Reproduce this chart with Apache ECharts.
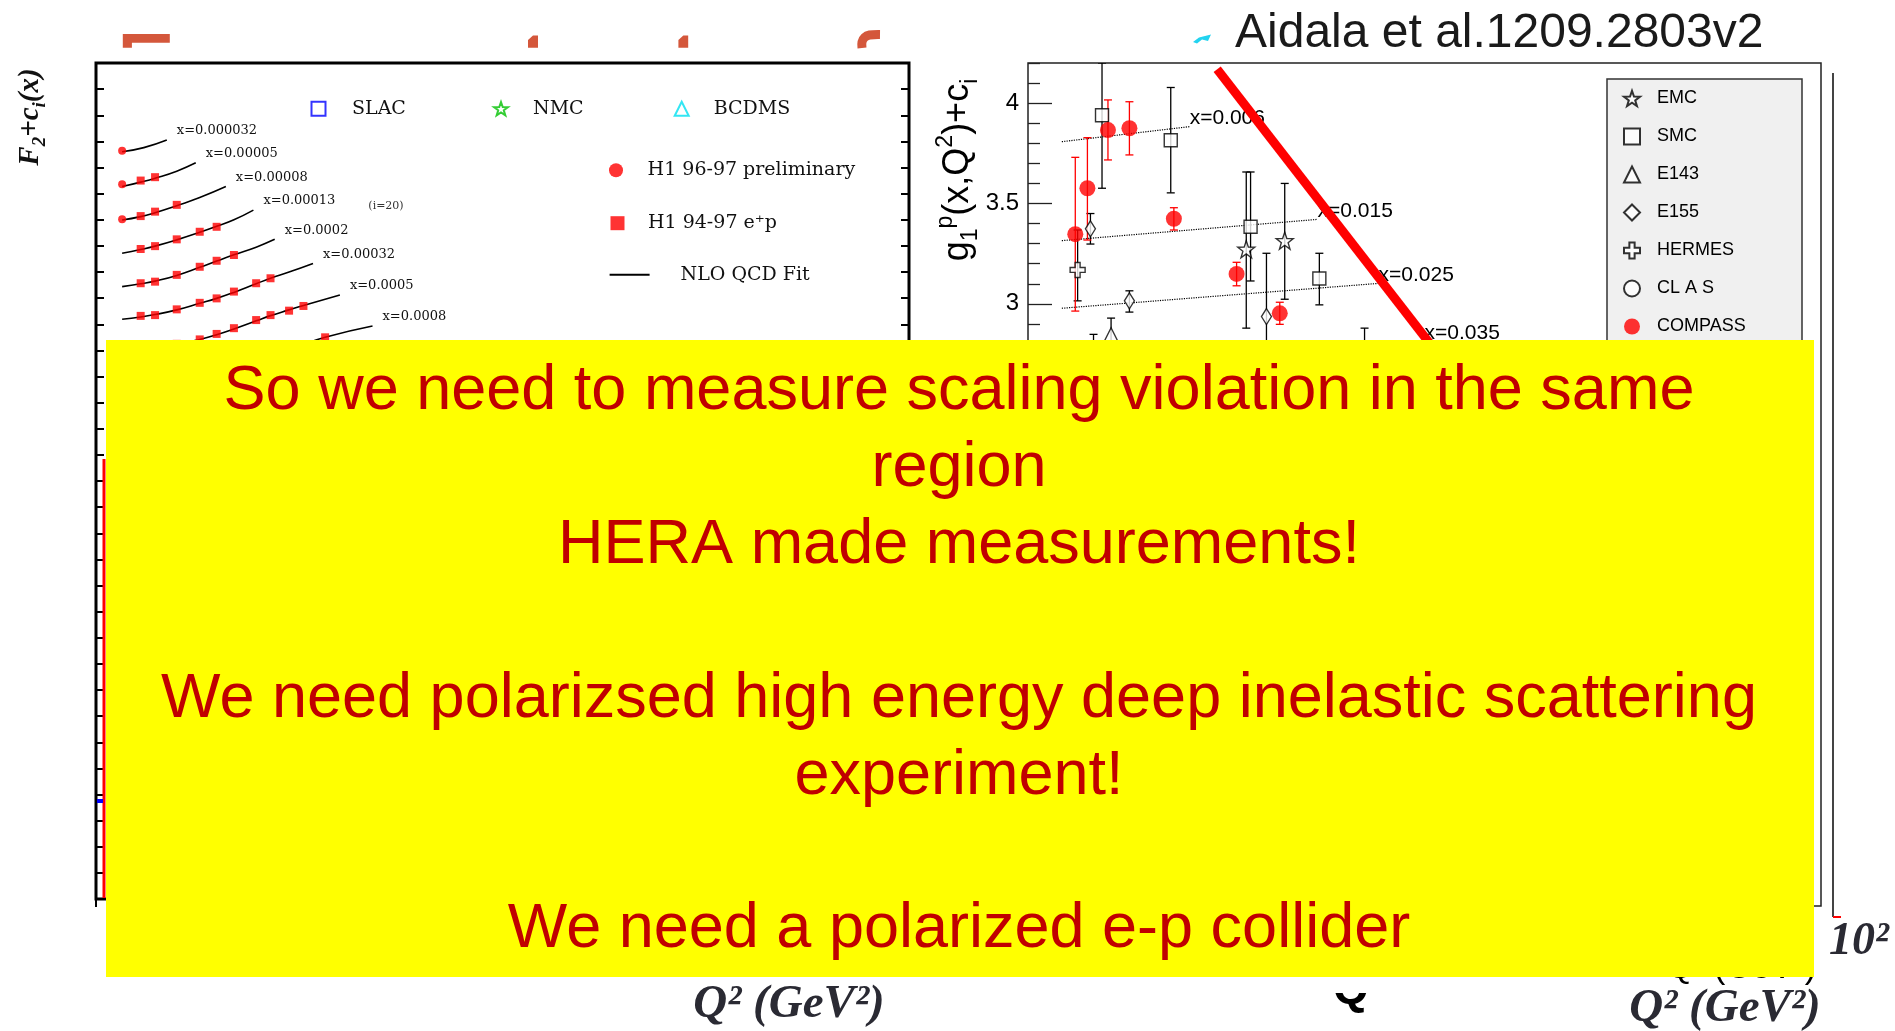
<!DOCTYPE html>
<html><head><meta charset="utf-8">
<script src="https://cdn.jsdelivr.net/npm/echarts@6/dist/echarts.min.js"></script>
<style>html,body{margin:0;padding:0;background:#fff}#c{width:1895px;height:1031px}</style>
</head><body><div id="c"></div>
<script>
// ================= DATA =================
// Left chart: H1 F2 + c_i(x) vs Q^2 (log Q^2 axis, offset F2 in arbitrary units)
const leftCurveLabels = ['x=0.000032','x=0.00005','x=0.00008','x=0.00013','x=0.0002','x=0.00032','x=0.0005','x=0.0008'];
const leftFits = [
  [[1.5,28.60],[2.1,28.76],[3.0,29.05]],
  [[1.5,27.27],[2,27.44],[2.5,27.59],[3.5,27.86],[4.7,28.18]],
  [[1.5,25.99],[2,26.12],[2.5,26.27],[3.5,26.54],[5,26.85],[7.5,27.27]],
  [[1.5,24.72],[2,24.86],[2.5,24.99],[3.5,25.23],[5,25.52],[6.5,25.75],[8.5,26.0],[11.5,26.37]],
  [[1.5,23.44],[2,23.55],[2.5,23.65],[3.5,23.87],[5,24.18],[6.5,24.42],[8.5,24.66],[12,24.95],[16,25.25]],
  [[1.5,22.19],[2,22.28],[2.5,22.37],[3.5,22.55],[5,22.8],[6.5,22.99],[8.5,23.22],[12,23.55],[15,23.76],[20,24.0],[29,24.33]],
  [[1.5,20.9],[2.5,21.08],[3.5,21.22],[5,21.42],[6.5,21.6],[8.5,21.82],[12,22.13],[15,22.33],[20,22.55],[25,22.72],[44,23.12]],
  [[1.5,19.6],[3.5,19.95],[8.5,20.45],[20,21.05],[35,21.5],[73,21.93]]
];
const h1PrelimPts = [[1.5,28.64],[1.5,27.36],[1.5,26.02]];
const h1Pts = [
  [2,27.50],[2.5,27.63],
  [2,26.14],[2.5,26.31],[3.5,26.57],
  [2,24.88],[2.5,24.99],[3.5,25.25],[5,25.54],[6.5,25.73],
  [2,23.57],[2.5,23.63],[3.5,23.89],[5,24.20],[6.5,24.43],[8.5,24.65],
  [2,22.32],[2.5,22.35],[3.5,22.57],[5,22.82],[6.5,22.99],[8.5,23.25],[12,23.57],[15,23.76],
  [2,21.0],[2.5,21.06],[3.5,21.25],[5,21.42],[6.5,21.63],[8.5,21.85],[12,22.16],[15,22.35],[20,22.52],[25,22.70],
  [35,21.5]
];

// Right chart: g1p(x,Q^2)+c_i vs Q^2 ; rows = [Q2, value, errLow, errHigh]
const compassPts = [[1.316,3.347,2.964,3.730],[1.412,3.576,3.318,3.828],[1.591,3.866,3.717,4.016],[1.802,3.875,3.742,4.007],[2.333,3.424,3.368,3.479],[3.358,3.149,3.090,3.207],[4.315,2.953,2.898,3.008]];
const smcPts = [[1.537,3.940,3.576,4.2],[2.291,3.815,3.553,4.078],[3.642,3.384,3.114,3.657],[5.43,3.126,2.995,3.252],[7.06,2.70,2.52,2.879]];
const emcPts = [[3.552,3.272,2.879,3.657],[4.441,3.315,3.023,3.600]];
const e155Pts = [[1.437,3.374,3.298,3.450],[1.802,3.015,2.959,3.065],[3.994,2.937,2.62,3.252]];
const hermesPts = [[1.334,3.169,3.015,3.368]];
const e143Pts = [[1.62,2.846,2.76,2.929],[1.463,2.78,2.71,2.848]];
const clasPts = [];
const rightFitLabels = ['x=0.006','x=0.015','x=0.025','x=0.035'];
const rightFits = [
  [[1.217,3.808],[2.557,3.883]],
  [[1.217,3.315],[5.375,3.421]],
  [[1.217,2.978],[7.656,3.102]],
  [[1.217,2.675],[10.0,2.815]]
];
const annotationLine = [[3.0,4.169],[10.62,2.770]];

// tick values
const rightYTicks = [0,0.5,1,1.5,2,2.5,3,3.5,4];
const leftXMajorTicks = [1,10,100,1000,10000,100000];

// slide texts
const yellowLines = ['So we need to measure scaling violation in the same','region','HERA made measurements!','','We need polarizsed high energy deep inelastic scattering','experiment!','','We need a polarized e-p collider'];

// ================= STYLE =================
const SANS = 'Liberation Sans, Arial, Helvetica, sans-serif';
const SERIF = 'Liberation Serif, Times New Roman, serif';
const DSERIF = 'DejaVu Serif, serif';
const STAR = 'path://M0,-10L2.35,-3.24L9.51,-3.09L3.8,1.24L5.88,8.09L0,4L-5.88,8.09L-3.8,1.24L-9.51,-3.09L-2.35,-3.24Z';
const PLUS = 'path://M-2.3,-7L2.3,-7L2.3,-2.3L7,-2.3L7,2.3L2.3,2.3L2.3,7L-2.3,7L-2.3,2.3L-7,2.3L-7,-2.3L-2.3,-2.3Z';
const hollow = c => ({color:'#fff', borderColor:c, borderWidth:1.4});

const leftMinorTicks = [];
leftXMajorTicks.forEach(d => { for (let k = 2; k <= 9; k++) if (d*k < 301000) leftMinorTicks.push(d*k); });
const rightMinorTicks = [];
for (let i = 1; i <= 42; i++) if (i % 5 !== 0) rightMinorTicks.push(+(i/10).toFixed(1));

function errSeries(name, pts, color) {
  return {
    type:'custom', name, coordinateSystem:'cartesian2d', xAxisIndex:2, yAxisIndex:2,
    data:pts, encode:{x:0, y:1}, z:3, silent:true, clip:true,
    renderItem: (params, api) => {
      const x = api.value(0), lo = api.value(2), hi = api.value(3);
      const a = api.coord([x, hi]), b = api.coord([x, lo]);
      const c = 4, st = {stroke:color, lineWidth:1.3};
      return {type:'group', children:[
        {type:'line', shape:{x1:a[0], y1:a[1], x2:b[0], y2:b[1]}, style:st},
        {type:'line', shape:{x1:a[0]-c, y1:a[1], x2:a[0]+c, y2:a[1]}, style:st},
        {type:'line', shape:{x1:b[0]-c, y1:b[1], x2:b[0]+c, y2:b[1]}, style:st}
      ]};
    }
  };
}
function markSeries(name, pts, symbol, size, itemStyle) {
  return {type:'scatter', name, xAxisIndex:2, yAxisIndex:2, data:pts.map(p => [p[0], p[1]]),
    symbol, symbolSize:size, itemStyle, z:4, clip:true};
}

const series = [];
// left fits
leftFits.forEach((f, i) => series.push({
  type:'line', name:'NLO QCD Fit', xAxisIndex:0, yAxisIndex:0, data:f, smooth:true, symbol:'none',
  lineStyle:{color:'#000', width:1.6}, itemStyle:{color:'#000'}, z:2,
  endLabel:{show:true, formatter:leftCurveLabels[i], distance:0, offset:[10,-9], fontFamily:DSERIF, fontSize:13, color:'#111'}
}));
series.push({type:'scatter', name:'H1 96-97 preliminary', xAxisIndex:0, yAxisIndex:0, data:h1PrelimPts, symbol:'circle', symbolSize:8, itemStyle:{color:'#ff0000'}, z:4});
series.push({type:'scatter', name:'H1 94-97 e⁺p', xAxisIndex:0, yAxisIndex:0, data:h1Pts, symbol:'rect', symbolSize:8, itemStyle:{color:'#ff0000'}, z:4});
series.push({type:'scatter', name:'SLAC', xAxisIndex:0, yAxisIndex:0, data:[], symbol:'rect', symbolSize:10, itemStyle:{color:'#fff', borderColor:'#0000ff', borderWidth:2}});
series.push({type:'scatter', name:'NMC', xAxisIndex:0, yAxisIndex:0, data:[], symbol:STAR, symbolSize:10, itemStyle:{color:'#fff', borderColor:'#00c000', borderWidth:2}});
series.push({type:'scatter', name:'BCDMS', xAxisIndex:0, yAxisIndex:0, data:[], symbol:'triangle', symbolSize:10, itemStyle:{color:'#fff', borderColor:'#00e0f0', borderWidth:2}});

// right fits
rightFits.forEach((f, i) => series.push({
  type:'line', name:rightFitLabels[i], xAxisIndex:2, yAxisIndex:2, data:f, symbol:'none',
  lineStyle:{color:'#000', width:1.2, type:'dotted'}, z:2,
  endLabel:{show:true, formatter:rightFitLabels[i], distance:0, offset:[0,-8], fontFamily:SANS, fontSize:21, color:'#000'}
}));
series.push(errSeries('EMC err', emcPts, '#000'));
series.push(errSeries('SMC err', smcPts, '#000'));
series.push(errSeries('E143 err', e143Pts, '#000'));
series.push(errSeries('E155 err', e155Pts, '#000'));
series.push(errSeries('HERMES err', hermesPts, '#000'));
series.push(errSeries('COMPASS err', compassPts, '#ff0000'));
series.push(markSeries('EMC', emcPts, STAR, 17, hollow('#000')));
series.push(markSeries('SMC', smcPts, 'rect', 13, hollow('#000')));
series.push(markSeries('E143', e143Pts, 'triangle', 14, hollow('#000')));
series.push(markSeries('E155', e155Pts, 'diamond', [10,16], hollow('#000')));
series.push(markSeries('HERMES', hermesPts, PLUS, 15, hollow('#000')));
series.push(markSeries('CL A S', clasPts, 'circle', 14, hollow('#000')));
series.push(markSeries('COMPASS', compassPts, 'circle', 16, {color:'#ff0000'}));
series.push({type:'line', name:'annotation', xAxisIndex:2, yAxisIndex:2, data:annotationLine, symbol:'none',
  lineStyle:{color:'#ff0000', width:9}, z:6, silent:true});

const hidden = {show:false};
const leftLegendText = {fontFamily:DSERIF, fontSize:19, color:'#111'};
function leftLegend(item, left, top, textPad, extra) {
  return Object.assign({data:[item], left, top, itemWidth:14, itemHeight:14, padding:0, selectedMode:false,
    textStyle:Object.assign({}, leftLegendText, {padding:[0,0,0,textPad]})}, extra || {});
}

const graphics = [
  // title fragments at the top of the slide
  {type:'polygon', z:5, shape:{points:[[122.8,34],[169.8,34],[169.8,42.7],[131.9,42.7],[131.9,47.7],[122.8,47.7]]}, style:{fill:'#D4573B'}},
  {type:'polygon', z:5, shape:{points:[[528,47.7],[528,40],[533,35.5],[538,35.5],[538,47.7]]}, style:{fill:'#D4573B'}},
  {type:'polygon', z:5, shape:{points:[[678.4,47.7],[678.4,40],[683.3,35.5],[688.2,35.5],[688.2,47.7]]}, style:{fill:'#D4573B'}},
  {type:'polyline', z:5, shape:{points:[[862,48],[862,42],[864.5,37.5],[869.5,35],[880,34.5]], smooth:0.3}, style:{stroke:'#D4573B', lineWidth:9, fill:null}},
  {type:'polygon', z:5, shape:{points:[[1193,42],[1199,37.5],[1211,34.5],[1208,41],[1202,39.5],[1197,43.5]]}, style:{fill:'#22d3f0'}},
  {type:'text', z:5, x:1235, y:34, style:{text:'Aidala et al.1209.2803v2', fontSize:48, fontFamily:SANS, fill:'#1a1a1a', align:'left', textAlign:'left', verticalAlign:'middle', textVerticalAlign:'middle'}},
  // right legend box
  {type:'rect', z:1, shape:{x:1607, y:79, width:195, height:300}, style:{fill:'#f0f0f0', stroke:'#333', lineWidth:1.5}},
  // outer frame line of underlying picture
  {type:'line', z:5, shape:{x1:1833, y1:73, x2:1833, y2:917}, style:{stroke:'#444', lineWidth:2}},
  {type:'line', z:5, shape:{x1:1833, y1:917, x2:1841, y2:917}, style:{stroke:'#ff0000', lineWidth:2}},
  {type:'line', z:6, shape:{x1:104, y1:459, x2:104, y2:898}, style:{stroke:'#ff0000', lineWidth:3}},
  {type:'rect', z:6, shape:{x:97, y:799, width:6, height:4}, style:{fill:'#0000ff'}},
  // axis titles
  {type:'text', z:5, x:958, y:170, rotation:Math.PI/2, style:{text:'g{sb|1}{sp|p}(x,Q{sp|2})+c{sb|i}', fontSize:36, fontFamily:SANS, fill:'#000', align:'center', textAlign:'center', verticalAlign:'middle', textVerticalAlign:'middle', lineHeight:48,
    rich:{sb:{fontSize:23, fontFamily:SANS, fill:'#000', verticalAlign:'bottom', lineHeight:24}, sp:{fontSize:23, fontFamily:SANS, fill:'#000', verticalAlign:'top', lineHeight:24}}}},
  {type:'text', z:5, x:31, y:117, rotation:Math.PI/2, style:{text:'F{sb|2}+c{sb|i}(x)', fontSize:29, fontFamily:SERIF, fontStyle:'italic', fontWeight:'bold', fill:'#111', align:'center', textAlign:'center', verticalAlign:'middle', textVerticalAlign:'middle', lineHeight:38,
    rich:{sb:{fontSize:19, fontFamily:SERIF, fontStyle:'italic', fontWeight:'bold', fill:'#111', verticalAlign:'bottom', lineHeight:20}}}},
  {type:'text', z:5, x:386, y:206, style:{text:'(i=20)', fontSize:11, fontFamily:DSERIF, fill:'#333', align:'center', textAlign:'center', verticalAlign:'middle', textVerticalAlign:'middle'}},
  {type:'text', z:5, x:789, y:1005, style:{text:'Q² (GeV²)', fontSize:47, fontFamily:SERIF, fontStyle:'italic', fontWeight:'bold', fill:'#2a2a33', align:'center', textAlign:'center', verticalAlign:'middle', textVerticalAlign:'middle'}},
  {type:'text', z:5, x:1725, y:1009, style:{text:'Q² (GeV²)', fontSize:47, fontFamily:SERIF, fontStyle:'italic', fontWeight:'bold', fill:'#2a2a33', align:'center', textAlign:'center', verticalAlign:'middle', textVerticalAlign:'middle'}},
  {type:'text', z:5, x:1829, y:942, style:{text:'10²', fontSize:46, fontFamily:SERIF, fontStyle:'italic', fontWeight:'bold', fill:'#2a2a33', align:'left', textAlign:'left', verticalAlign:'middle', textVerticalAlign:'middle'}},
  {type:'text', z:10, x:1816, y:969, style:{text:'Q² (GeV²)', fontSize:34, fontFamily:SANS, fill:'#000', align:'right', textAlign:'right', verticalAlign:'middle', textVerticalAlign:'middle'}},
  {type:'text', z:10, x:1351, y:990, style:{text:'Q', fontSize:46, fontFamily:SANS, fontWeight:'bold', fill:'#000', align:'center', textAlign:'center', verticalAlign:'middle', textVerticalAlign:'middle'}},
  {type:'rect', z:11, shape:{x:1320, y:955, width:70, height:38}, style:{fill:'#fff'}},
  // yellow overlay
  {type:'rect', z:100, shape:{x:106, y:340, width:1708, height:637}, style:{fill:'#ffff00'}}
];
yellowLines.forEach((t, k) => {
  if (!t) return;
  graphics.push({type:'text', z:101, x:959, y:392 + k*76.86, style:{text:t, fontSize:63, fontFamily:SANS, fill:'#C00000', align:'center', textAlign:'center', verticalAlign:'middle', textVerticalAlign:'middle'}});
});

const option = {
  animation:false,
  backgroundColor:'#fff',
  grid:[
    {left:96, top:63, width:813, height:836, show:true, borderColor:'#000', borderWidth:3, backgroundColor:'transparent', containLabel:false, outerBoundsMode:'none'},
    {left:1028, top:63, width:793, height:843, show:true, borderColor:'#222', borderWidth:1.5, backgroundColor:'transparent', containLabel:false, outerBoundsMode:'none'}
  ],
  xAxis:[
    {type:'log', gridIndex:0, position:'top', min:1, max:301000, axisLine:hidden, axisLabel:hidden, splitLine:hidden,
      axisTick:{show:true, inside:true, length:8, customValues:leftXMajorTicks, lineStyle:{color:'#000', width:2}}},
    {type:'log', gridIndex:0, position:'top', min:1, max:301000, axisLine:hidden, axisLabel:hidden, splitLine:hidden,
      axisTick:{show:true, inside:true, length:4, customValues:leftMinorTicks, lineStyle:{color:'#000', width:1.5}}},
    {type:'log', gridIndex:1, position:'bottom', min:1, max:100, axisLine:hidden, axisLabel:hidden, splitLine:hidden, axisTick:hidden}
  ],
  yAxis:[
    {type:'value', gridIndex:0, position:'left', min:0, max:32, interval:1, axisLine:hidden, axisLabel:hidden, splitLine:hidden,
      axisTick:{show:true, inside:true, length:8, lineStyle:{color:'#000', width:2}}},
    {type:'value', gridIndex:0, position:'right', min:0, max:32, interval:1, axisLine:hidden, axisLabel:hidden, splitLine:hidden,
      axisTick:{show:true, inside:true, length:8, lineStyle:{color:'#000', width:2}}},
    {type:'value', gridIndex:1, position:'left', min:0, max:4.2, interval:0.5, axisLine:hidden, splitLine:hidden,
      axisTick:{show:true, inside:true, length:24, customValues:rightYTicks, lineStyle:{color:'#222', width:1.3}},
      axisLabel:{show:true, customValues:rightYTicks, margin:9, fontFamily:SANS, fontSize:24, color:'#000'}},
    {type:'value', gridIndex:1, position:'left', min:0, max:4.2, axisLine:hidden, splitLine:hidden, axisLabel:hidden,
      axisTick:{show:true, inside:true, length:12, customValues:rightMinorTicks, lineStyle:{color:'#222', width:1.3}}}
  ],
  legend:[
    leftLegend('SLAC', 310.5, 99.2, 21.5),
    leftLegend('NMC', 493, 99.2, 20),
    leftLegend('BCDMS', 673.7, 99.2, 20),
    leftLegend('H1 96-97 preliminary', 609, 160.8, 19.6),
    leftLegend('H1 94-97 e⁺p', 610.5, 213.7, 18.5),
    leftLegend({name:'NLO QCD Fit', icon:'rect'}, 609.6, 265.3, 26, {itemWidth:40, itemHeight:2, itemStyle:{color:'#000'}}),
    {data:['EMC','SMC','E143','E155','HERMES','CL A S','COMPASS'], orient:'vertical', left:1623, top:89.5,
      itemWidth:16, itemHeight:16, itemGap:20, padding:0, selectedMode:false,
      textStyle:{fontFamily:SANS, fontSize:18, color:'#000', padding:[0,0,0,12]}}
  ],
  graphic:{elements:graphics},
  series
};
const chart = echarts.init(document.getElementById('c'));
chart.setOption(option);
</script>
</body></html>
